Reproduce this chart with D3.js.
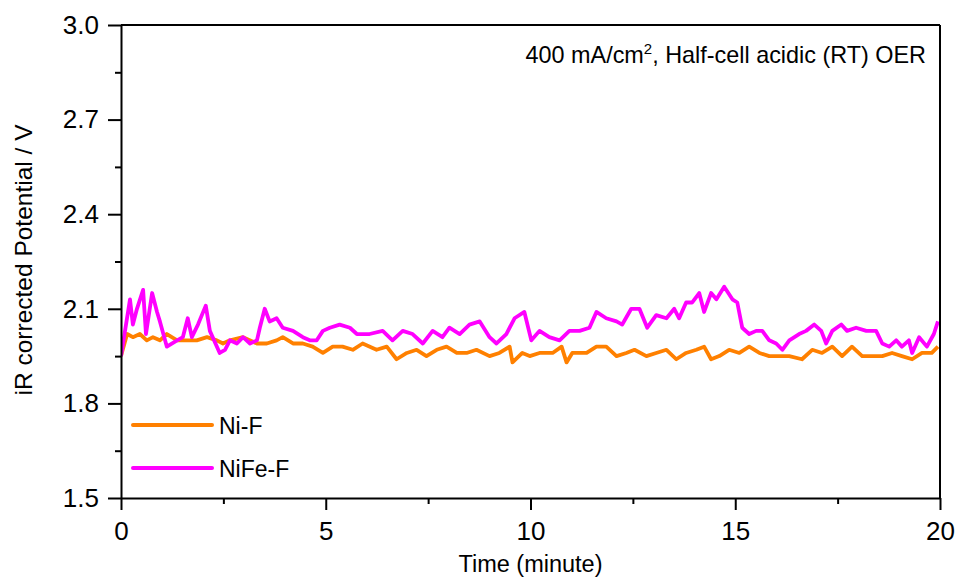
<!DOCTYPE html>
<html>
<head>
<meta charset="utf-8">
<script src="https://cdn.jsdelivr.net/npm/d3@7"></script>
<style>
  body { margin: 0; background: #fff; }
  svg { display: block; font-family: "Liberation Sans", Arial, sans-serif; }
</style>
</head>
<body>
<svg id="chart" width="959" height="579"></svg>
<script>
// Chronopotentiometry at 400 mA/cm2, time in minutes, potential in V (iR corrected)
const niTime = [0.00,0.15,0.29,0.46,0.63,0.78,0.95,1.12,1.37,1.61,1.85,2.10,2.34,2.49,2.66,2.98,3.32,3.56,3.80,3.95,4.20,4.44,4.68,4.93,5.17,5.41,5.66,5.90,6.24,6.49,6.73,6.98,7.22,7.46,7.71,7.95,8.20,8.44,8.68,9.00,9.24,9.49,9.56,9.80,9.98,10.22,10.54,10.76,10.88,11.02,11.37,11.61,11.85,12.10,12.34,12.54,12.83,13.07,13.32,13.56,13.80,14.05,14.24,14.41,14.61,14.85,15.10,15.34,15.59,15.83,16.07,16.32,16.63,16.88,17.12,17.37,17.61,17.85,18.10,18.34,18.59,18.83,19.07,19.32,19.56,19.80,19.95];
const niPotential = [1.95,2.02,2.01,2.02,2.00,2.01,2.00,2.02,2.00,2.00,2.00,2.01,2.00,1.99,2.00,2.01,1.99,1.99,2.00,2.01,1.99,1.99,1.98,1.96,1.98,1.98,1.97,1.99,1.97,1.98,1.94,1.96,1.97,1.95,1.97,1.98,1.96,1.96,1.97,1.95,1.96,1.98,1.93,1.96,1.95,1.96,1.96,1.98,1.93,1.96,1.96,1.98,1.98,1.95,1.96,1.97,1.95,1.96,1.97,1.94,1.96,1.97,1.98,1.94,1.95,1.97,1.96,1.98,1.96,1.95,1.95,1.95,1.94,1.97,1.96,1.98,1.95,1.98,1.95,1.95,1.95,1.96,1.95,1.94,1.96,1.96,1.98];

const nifeTime = [0.00,0.22,0.29,0.39,0.54,0.61,0.76,0.88,0.95,1.12,1.37,1.51,1.63,1.73,1.88,2.07,2.17,2.41,2.54,2.66,2.83,2.98,3.15,3.32,3.39,3.51,3.63,3.80,3.95,4.20,4.44,4.61,4.78,4.93,5.10,5.34,5.59,5.76,6.07,6.39,6.63,6.88,7.12,7.37,7.61,7.85,8.02,8.27,8.51,8.76,9.00,9.17,9.41,9.61,9.85,10.02,10.22,10.46,10.71,10.95,11.20,11.44,11.61,11.85,12.10,12.24,12.46,12.66,12.85,13.07,13.32,13.51,13.63,13.80,13.95,14.12,14.24,14.41,14.54,14.73,14.93,15.05,15.17,15.34,15.51,15.66,15.83,16.00,16.15,16.32,16.56,16.73,16.93,17.10,17.22,17.37,17.59,17.73,17.95,18.20,18.44,18.59,18.76,18.93,19.07,19.24,19.32,19.49,19.68,19.85,19.95];
const nifePotential = [1.95,2.13,2.05,2.10,2.16,2.02,2.15,2.09,2.06,1.98,2.00,2.01,2.07,2.01,2.05,2.11,2.03,1.96,1.97,2.00,1.99,2.01,1.99,2.00,2.04,2.10,2.06,2.07,2.04,2.03,2.01,2.00,2.00,2.03,2.04,2.05,2.04,2.02,2.02,2.03,2.00,2.03,2.02,1.99,2.03,2.01,2.04,2.02,2.05,2.06,2.01,1.99,2.02,2.07,2.09,2.00,2.03,2.01,2.00,2.03,2.03,2.04,2.09,2.07,2.06,2.05,2.10,2.10,2.04,2.08,2.07,2.10,2.07,2.12,2.12,2.15,2.09,2.15,2.13,2.17,2.13,2.12,2.04,2.02,2.03,2.03,2.00,1.99,1.97,2.00,2.02,2.03,2.05,2.03,1.99,2.03,2.05,2.03,2.04,2.03,2.03,1.99,1.98,2.00,1.98,2.00,1.96,2.01,1.98,2.02,2.06];

const xTicks = [0, 5, 10, 15, 20];
const yTicks = [1.5, 1.8, 2.1, 2.4, 2.7, 3.0];
const seriesNames = ["Ni-F", "NiFe-F"];
const seriesColors = ["#ff8000", "#ff00ff"];

const svg = d3.select("#chart");
const margin = { left: 121, right: 19, top: 25, bottom: 81 };
const W = 959, H = 579;
const x = d3.scaleLinear().domain([0, 20]).range([margin.left, W - margin.right]);
const y = d3.scaleLinear().domain([1.5, 3.0]).range([H - margin.bottom, margin.top]);

const series = [
  { name: seriesNames[0], color: seriesColors[0], pts: niTime.map((t, i) => [t, niPotential[i]]) },
  { name: seriesNames[1], color: seriesColors[1], pts: nifeTime.map((t, i) => [t, nifePotential[i]]) }
];

const line = d3.line().x(d => x(d[0])).y(d => y(d[1]));

const plot = svg.append("g");
plot.append("defs").append("clipPath").attr("id", "clip")
  .append("rect").attr("x", x(0)).attr("y", y(3.0)).attr("width", x(20) - x(0)).attr("height", y(1.5) - y(3.0));

plot.append("g").attr("clip-path", "url(#clip)")
  .selectAll("path").data(series).join("path")
  .attr("d", d => line(d.pts))
  .attr("fill", "none")
  .attr("stroke", d => d.color)
  .attr("stroke-width", 3.8)
  .attr("stroke-linejoin", "round");

// Frame: top and right edges
svg.append("line").attr("x1", x(0)).attr("x2", x(20)).attr("y1", y(3.0)).attr("y2", y(3.0))
  .attr("stroke", "#000").attr("stroke-width", 2);
svg.append("line").attr("x1", x(20)).attr("x2", x(20)).attr("y1", y(3.0)).attr("y2", y(1.5))
  .attr("stroke", "#000").attr("stroke-width", 2);

// Bottom axis
svg.append("g").attr("transform", `translate(0,${y(1.5)})`)
  .call(d3.axisBottom(x).tickValues(xTicks).tickFormat(d3.format("d")).tickSize(12).tickPadding(12).tickSizeOuter(0));
svg.append("g").attr("transform", `translate(0,${y(1.5)})`)
  .call(d3.axisBottom(x).tickValues(d3.range(2.5, 20, 5)).tickFormat("").tickSize(6).tickSizeOuter(0))
  .select(".domain").remove();

// Left axis
svg.append("g").attr("transform", `translate(${x(0)},0)`)
  .call(d3.axisLeft(y).tickValues(yTicks).tickFormat(d3.format(".1f")).tickSize(13).tickPadding(9).tickSizeOuter(0));
svg.append("g").attr("transform", `translate(${x(0)},0)`)
  .call(d3.axisLeft(y).tickValues(d3.range(1.65, 3.0, 0.3)).tickFormat("").tickSize(6).tickSizeOuter(0))
  .select(".domain").remove();

svg.selectAll(".domain").attr("stroke", "#000").attr("stroke-width", 2);
svg.selectAll(".tick line").attr("stroke", "#000").attr("stroke-width", 2);
svg.selectAll(".tick text").attr("fill", "#000").style("font-size", "26px")
  .style("font-family", "'Liberation Sans', Arial, sans-serif");

// Axis titles
svg.append("text").attr("x", x(10)).attr("y", 572).attr("text-anchor", "middle")
  .style("font-size", "23.5px").text("Time (minute)");
svg.append("text").attr("transform", `translate(32,260) rotate(-90)`)
  .attr("text-anchor", "middle").style("font-size", "24.5px").text("iR corrected Potential / V");

// Condition note
const note = svg.append("text").attr("x", 926).attr("y", 63).attr("text-anchor", "end")
  .style("font-size", "23.4px");
note.append("tspan").text("400 mA/cm");
note.append("tspan").attr("dy", -9).style("font-size", "15px").text("2");
note.append("tspan").attr("dy", 9).text(", Half-cell acidic (RT) OER");

// Legend
const legend = svg.append("g").selectAll("g").data(series).join("g")
  .attr("transform", (d, i) => `translate(133,${425 + i * 43})`);
legend.append("line").attr("x1", 0).attr("x2", 79).attr("y1", 0).attr("y2", 0)
  .attr("stroke", d => d.color).attr("stroke-width", 4).attr("stroke-linecap", "round");
legend.append("text").attr("x", 86).attr("y", 8.5).style("font-size", "23px").text(d => d.name);
</script>
</body>
</html>
